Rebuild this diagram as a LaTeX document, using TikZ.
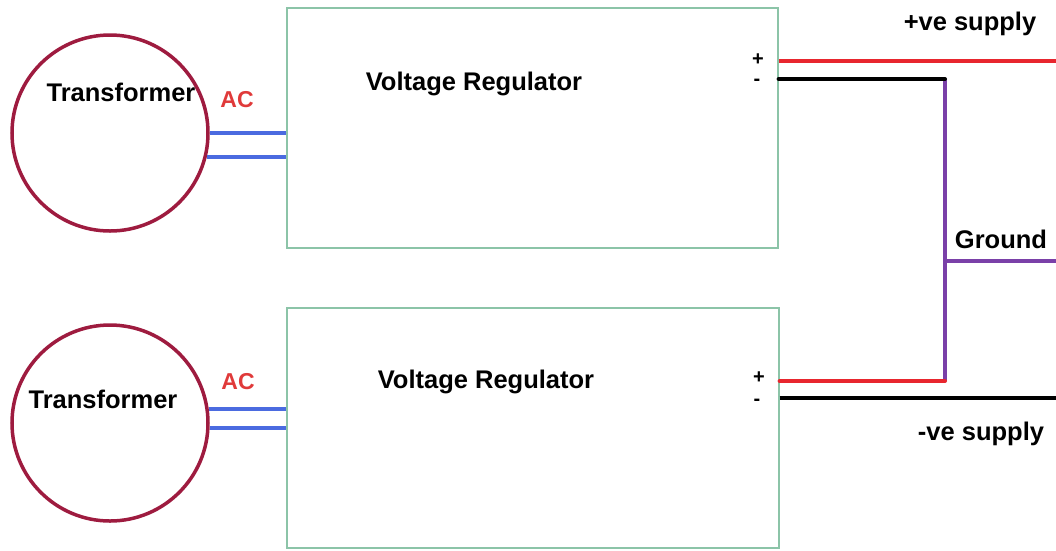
\documentclass[tikz,border=0pt]{standalone}
\usepackage{fontspec}
\setmainfont{Liberation Sans}
\usetikzlibrary{calc}
\definecolor{circred}{HTML}{9E1B3F}
\definecolor{boxgreen}{HTML}{8CC4A8}
\definecolor{wireblue}{HTML}{4B6BE0}
\definecolor{wirered}{HTML}{E8262E}
\definecolor{wirepurple}{HTML}{7A40A8}
\definecolor{acred}{HTML}{E03A3A}
\begin{document}
\begin{tikzpicture}[x=1pt,y=-1pt,
  trafo/.style={circle,draw=circred,line width=3.5pt,minimum size=196pt,inner sep=0pt},
  regbox/.style={rectangle,draw=boxgreen,line width=1.2pt,inner sep=0pt},
  lbl/.style={font=\fontsize{25.5}{30}\selectfont\bfseries,anchor=base,inner sep=0pt},
  signlbl/.style={font=\fontsize{20}{22}\selectfont\bfseries,anchor=base,inner sep=0pt,text height=12pt,text depth=0pt},
  aclbl/.style={font=\fontsize{23}{28}\selectfont\bfseries,text=acred,anchor=base,inner sep=0pt},
  bluewire/.style={draw=wireblue,line width=4pt},
  redwire/.style={draw=wirered,line width=4pt},
  blackwire/.style={draw=black,line width=4pt},
  purplewire/.style={draw=wirepurple,line width=4pt}]
\useasboundingbox (0,0) rectangle (1056,550);
% transformers
\node[trafo] (t1) at (110,133) {};
\node[trafo] (t2) at (110,423) {};
% regulators
\node[regbox,minimum width=491pt,minimum height=240pt] (b1) at (532.5,128) {};
\node[regbox,minimum width=492pt,minimum height=240pt] (b2) at (533,428) {};
% labels
\node[lbl] (lt1) at (121,101) {Transformer};
\node[lbl] (lt2) at (103,408) {Transformer};
\node[aclbl] (ac1) at (237,107) {AC};
\node[aclbl] (ac2) at (238,389) {AC};
\node[lbl] (vr1) at (474,90) {Voltage Regulator};
\node[lbl] (vr2) at (486,388) {Voltage Regulator};
\node[signlbl] (p1) at (758,65) {+};
\node[signlbl] (m1) at (757,85) {-};
\node[signlbl] (p2) at (759,383) {+};
\node[signlbl] (m2) at (757,405) {-};
\node[lbl] (pos) at (970,30) {+ve supply};
\node[lbl] (gnd) at (1001,248) {Ground};
\node[lbl] (neg) at (981,440) {-ve supply};
% AC wires
\draw[bluewire] (t1.east) -- (t1.east -| b1.west);
\draw[bluewire] (t1.-14.5) -- (t1.-14.5 -| b1.west);
\draw[bluewire] (t2.8) -- (t2.8 -| b2.west);
\draw[bluewire] (t2.-3.5) -- (t2.-3.5 -| b2.west);
% outputs
\coordinate (posend) at (1056,61);
\coordinate (j1) at (945,79);
\coordinate (j2) at (945,381);
\coordinate (gj) at (945,261);
\coordinate (gndend) at (1056,261);
\coordinate (negend) at (1056,398);
\draw[redwire] (posend -| b1.east) -- (posend);
\draw[purplewire] (j1) -- (j2);
\draw[blackwire,line cap=round] (j1 -| b1.east) -- (j1);
\draw[redwire,line cap=round] (j2 -| b2.east) -- (j2);
\draw[purplewire] (gj) -- (gndend);
\draw[blackwire] (negend -| b2.east) -- (negend);
\end{tikzpicture}
\end{document}
